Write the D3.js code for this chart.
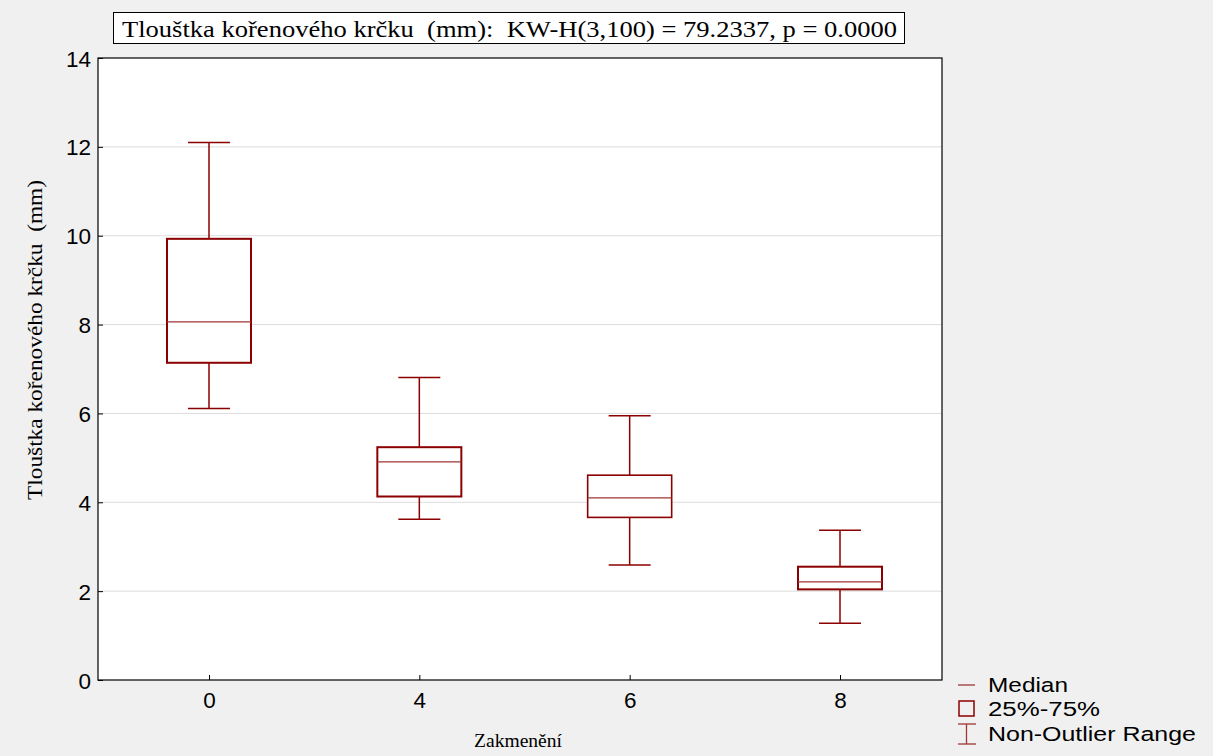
<!DOCTYPE html>
<html><head><meta charset="utf-8">
<script src="https://cdn.jsdelivr.net/npm/d3@7"></script>
<style>body{margin:0;background:#f0f0f0;}svg{display:block;} text{white-space:pre;}</style>
</head><body>
<svg id="c" width="1213" height="756"></svg>
<script>
const categories = ["0","4","6","8"];
const whiskerLow = [6.11, 3.62, 2.59, 1.28];
const q1 = [7.14, 4.13, 3.66, 2.04];
const median = [8.06, 4.91, 4.10, 2.21];
const q3 = [9.93, 5.24, 4.61, 2.55];
const whiskerHigh = [12.10, 6.81, 5.95, 3.37];
const yTicks = [0,2,4,6,8,10,12,14];
const titleText = "Tlouštka kořenového krčku  (mm):  KW-H(3,100) = 79.2337, p = 0.0000";
const yTitle = "Tlouštka kořenového krčku  (mm)";
const xTitle = "Zakmenění";
const legendItems = ["Median","25%-75%","Non-Outlier Range"];

const svg = d3.select("#c");
const L = 98, R = 942, T = 58, B = 680;
const col = "#8b0000";
const sans = "Liberation Sans, Arial, sans-serif";
const serif = "Liberation Serif, Times New Roman, serif";
const x = d3.scalePoint().domain(categories).range([209, 840]);
const y = d3.scaleLinear().domain([0,14]).range([B, T]);

svg.append("rect").attr("x",0).attr("y",0).attr("width",1213).attr("height",756).attr("fill","#f0f0f0");
svg.append("rect").attr("x",L).attr("y",T).attr("width",R-L).attr("height",B-T).attr("fill","#fff");

// grid
svg.append("g").selectAll("line").data(yTicks.filter(d=>d>0&&d<14)).join("line")
  .attr("x1",L).attr("x2",R).attr("y1",d=>y(d)).attr("y2",d=>y(d))
  .attr("stroke","#dcdcdc").attr("stroke-width",1);

// axes
const yAxis = svg.append("g").attr("transform",`translate(${L},0)`)
  .call(d3.axisLeft(y).tickValues(yTicks).tickSize(-5).tickPadding(7).tickFormat(d3.format("d")));
yAxis.select(".domain").remove();
yAxis.selectAll("line").attr("stroke","#000");
yAxis.selectAll("text").attr("font-family",sans).attr("font-size",22.5).attr("fill","#000").attr("dy","0.36em");

const xAxis = svg.append("g").attr("transform",`translate(0,${B})`)
  .call(d3.axisBottom(x).tickSize(-5).tickPadding(12));
xAxis.select(".domain").remove();
xAxis.selectAll("line").attr("stroke","#000");
xAxis.selectAll("text").attr("font-family",sans).attr("font-size",22.5).attr("fill","#000");

svg.append("rect").attr("x",L).attr("y",T).attr("width",R-L).attr("height",B-T)
  .attr("fill","none").attr("stroke","#000").attr("stroke-width",1.2);

// boxes
const hw = 42, cw = 21;
const g = svg.append("g");
categories.forEach((c,i)=>{
  const cx = x(c);
  g.append("line").attr("x1",cx).attr("x2",cx).attr("y1",y(whiskerHigh[i])).attr("y2",y(q3[i])).attr("stroke",col).attr("stroke-width",1.5);
  g.append("line").attr("x1",cx).attr("x2",cx).attr("y1",y(q1[i])).attr("y2",y(whiskerLow[i])).attr("stroke",col).attr("stroke-width",1.5);
  g.append("line").attr("x1",cx-cw).attr("x2",cx+cw).attr("y1",y(whiskerHigh[i])).attr("y2",y(whiskerHigh[i])).attr("stroke",col).attr("stroke-width",1.5);
  g.append("line").attr("x1",cx-cw).attr("x2",cx+cw).attr("y1",y(whiskerLow[i])).attr("y2",y(whiskerLow[i])).attr("stroke",col).attr("stroke-width",1.5);
  g.append("rect").attr("x",cx-hw).attr("y",y(q3[i])).attr("width",2*hw).attr("height",y(q1[i])-y(q3[i]))
    .attr("fill","#fff").attr("stroke",col).attr("stroke-width",i===2?1.6:2);
  g.append("line").attr("x1",cx-hw).attr("x2",cx+hw).attr("y1",y(median[i])).attr("y2",y(median[i])).attr("stroke","#a03535").attr("stroke-width",1.3);
});

// title box
svg.append("rect").attr("x",113.5).attr("y",12.5).attr("width",791).attr("height",31).attr("fill","#fff").attr("stroke","#000").attr("stroke-width",1);
svg.append("text").attr("x",122).attr("y",36.5)
  .attr("textLength",775).attr("lengthAdjust","spacingAndGlyphs")
  .attr("font-family",serif).attr("font-size",24).attr("fill","#000").text(titleText);

// axis titles
svg.append("text").attr("transform",`translate(42,${500}) rotate(-90)`)
  .attr("textLength",320).attr("lengthAdjust","spacingAndGlyphs")
  .attr("font-family",serif).attr("font-size",21).attr("fill","#000").text(yTitle);
svg.append("text").attr("x",474).attr("y",747)
  .attr("textLength",88).attr("lengthAdjust","spacingAndGlyphs")
  .attr("font-family",serif).attr("font-size",19).attr("fill","#000").text(xTitle);

// legend
const lg = svg.append("g");
const ly = [685, 709, 734];
lg.append("line").attr("x1",958).attr("x2",975).attr("y1",ly[0]).attr("y2",ly[0]).attr("stroke","#a03535").attr("stroke-width",1.3);
lg.append("rect").attr("x",959).attr("y",ly[1]-8).attr("width",15).attr("height",15).attr("fill","none").attr("stroke",col).attr("stroke-width",1.5);
lg.append("line").attr("x1",966.5).attr("x2",966.5).attr("y1",ly[2]-10).attr("y2",ly[2]+10).attr("stroke","#a03535").attr("stroke-width",1.3);
lg.append("line").attr("x1",958).attr("x2",976).attr("y1",ly[2]-10).attr("y2",ly[2]-10).attr("stroke","#a03535").attr("stroke-width",1.3);
lg.append("line").attr("x1",958).attr("x2",976).attr("y1",ly[2]+10).attr("y2",ly[2]+10).attr("stroke","#a03535").attr("stroke-width",1.3);
const lLens = [80, 112, 208];
lg.selectAll("text").data(legendItems).join("text")
  .attr("x",988).attr("y",(d,i)=>ly[i]+7)
  .attr("textLength",(d,i)=>lLens[i]).attr("lengthAdjust","spacingAndGlyphs")
  .attr("font-family",sans).attr("font-size",20.5).attr("fill","#000").text(d=>d);
</script>
</body></html>
